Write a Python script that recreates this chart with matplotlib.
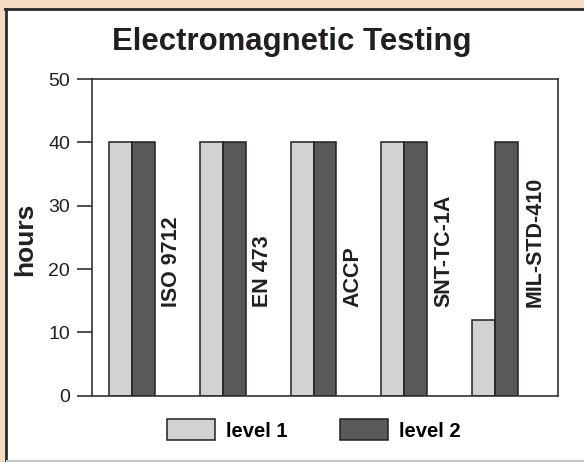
import numpy as np
import matplotlib
matplotlib.use('Agg')
import matplotlib.pyplot as plt
from matplotlib.patches import Patch, Rectangle
from matplotlib.lines import Line2D

standards = ['ISO 9712', 'EN 473', 'ACCP', 'SNT-TC-1A', 'MIL-STD-410']
level1 = [40, 40, 40, 40, 12]
level2 = [40, 40, 40, 40, 40]
yticks = [0, 10, 20, 30, 40, 50]

plt.rcParams['font.family'] = ['Liberation Sans', 'DejaVu Sans']
light = '#D1D2D4'
dark = '#58595B'
edge = '#231F20'

fig = plt.figure(figsize=(5.84, 4.62), dpi=100, facecolor='#F6DCC2')
W, H = 584, 462
# white panel with dark top/left border
fig.patches.append(Rectangle((6 / W, 1 / H), 1, 452 / H, transform=fig.transFigure,
                             facecolor='white', edgecolor='none', zorder=-5))
fig.lines.append(Line2D([6 / W, 6 / W], [0, 453 / H], transform=fig.transFigure,
                        color='#2b2b2b', lw=2.0, zorder=-4))
fig.lines.append(Line2D([5 / W, 1], [453 / H, 453 / H], transform=fig.transFigure,
                        color='#2b2b2b', lw=2.0, zorder=-4))
fig.lines.append(Line2D([7 / W, 1], [1 / H, 1 / H], transform=fig.transFigure,
                        color='#c8c8c8', lw=1.5, zorder=-4))

ax = fig.add_axes([92 / W, 66.3 / H, 466 / W, 316.7 / H])
ax.set_facecolor('white')
x = np.arange(len(standards))
bw = 0.253
ax.bar(x - bw, level1, width=bw, align='edge', color=light, edgecolor=edge, linewidth=1.1, label='level 1')
ax.bar(x, level2, width=bw, align='edge', color=dark, edgecolor=edge, linewidth=1.1, label='level 2')
for xi, name in zip(x, standards):
    ax.text(xi + 0.437, 14, name, rotation=90, rotation_mode='anchor', ha='left', va='center',
            fontsize=15.5, fontweight='bold', color='#231F20')

ax.set_xlim(-0.4408, 4.6942)
ax.set_ylim(0, 50)
ax.set_yticks(yticks)
ax.set_xticks([])
ax.tick_params(axis='y', direction='out', length=10.8, width=1.1, pad=5, labelsize=14,
               colors='#231F20')
for s in ax.spines.values():
    s.set_color('#333333')
    s.set_linewidth(1.2)

ax.set_ylabel('hours', fontsize=19, fontweight='bold', color='#231F20')
ax.yaxis.set_label_coords(-0.118, 0.495)

fig.text(292 / W, 1 - 50 / H, 'Electromagnetic Testing', ha='center', va='baseline',
         fontsize=22.4, fontweight='bold', color='#231F20')

handles = [Patch(facecolor=light, edgecolor=edge, linewidth=1.1),
           Patch(facecolor=dark, edgecolor=edge, linewidth=1.1)]
ax.legend(handles, ['level 1', 'level 2'], ncol=2, loc='center',
          bbox_to_anchor=(314 / W, 1 - 430 / H), bbox_transform=fig.transFigure,
          frameon=False, handlelength=2.36, handleheight=1.23, handletextpad=0.54,
          columnspacing=2.6, borderpad=0, prop={'weight': 'bold', 'size': 14.6})

fig.savefig('out.png', dpi=100, facecolor=fig.get_facecolor())
